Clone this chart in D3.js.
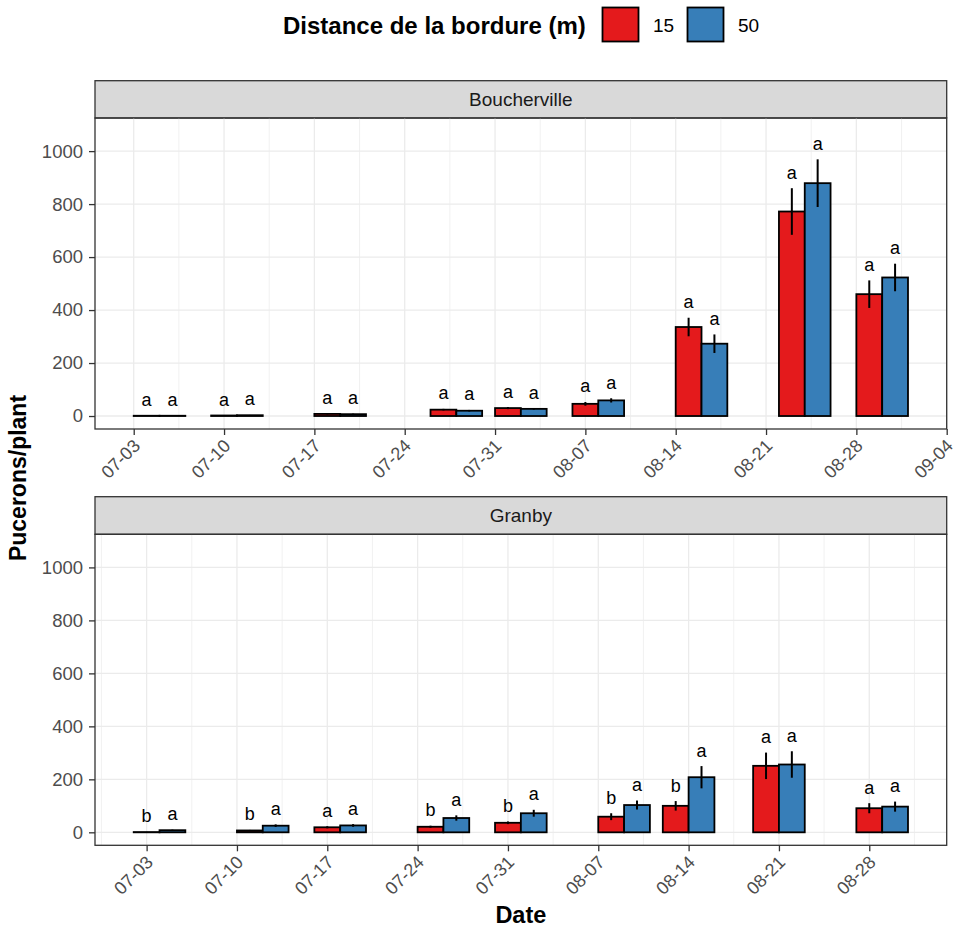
<!DOCTYPE html>
<html>
<head>
<meta charset="utf-8">
<script src="https://cdn.jsdelivr.net/npm/d3@7"></script>
<style>
  body { margin: 0; background: #fff; }
  svg text { font-family: "Liberation Sans", Arial, Helvetica, sans-serif; }
</style>
</head>
<body>
<svg id="chart" width="956" height="928"></svg>
<script>
// ---- Data -------------------------------------------------------------
const distances = ["15", "50"];
const distanceColors = ["#E41A1C", "#377EB8"];
const sites = ["Boucherville", "Granby"];

// Boucherville
const bouchDates = ["07-05", "07-11", "07-19", "07-28", "08-02", "08-08", "08-16", "08-24", "08-30"];
const bouch15 = [1, 2, 8, 24, 30, 46, 336, 772, 460];
const bouch15se = [0.5, 1, 2, 3, 4, 7, 35, 88, 52];
const bouch50 = [1, 3, 7, 20, 27, 59, 273, 879, 523];
const bouch50se = [0.5, 1, 2, 3, 3, 8, 35, 90, 52];
const bouch15letters = ["a", "a", "a", "a", "a", "a", "a", "a", "a"];
const bouch50letters = ["a", "a", "a", "a", "a", "a", "a", "a", "a"];
const bouchTicks = ["07-03", "07-10", "07-17", "07-24", "07-31", "08-07", "08-14", "08-21", "08-28", "09-04"];

// Granby
const granDates = ["07-04", "07-12", "07-18", "07-26", "08-01", "08-09", "08-14", "08-21", "08-29"];
const gran15 = [1, 7, 19, 21, 36, 59, 100, 251, 91];
const gran15se = [0.5, 2, 4, 4, 5, 13, 18, 50, 19];
const gran50 = [8, 25, 26, 54, 72, 103, 208, 256, 97];
const gran50se = [2, 5, 5, 10, 13, 17, 42, 50, 19];
const gran15letters = ["b", "b", "a", "b", "b", "b", "b", "a", "a"];
const gran50letters = ["a", "a", "a", "a", "a", "a", "a", "a", "a"];
const granTicks = ["07-03", "07-10", "07-17", "07-24", "07-31", "08-07", "08-14", "08-21", "08-28"];

const yTicks = [0, 200, 400, 600, 800, 1000];

// ---- Helpers ------------------------------------------------------------
const parseDay = d3.timeParse("%Y-%m-%d");
const toDate = s => parseDay("2019-" + s);
const fmt = d3.timeFormat("%m-%d");
const DAY = 86400000;

function buildRows(dates, v15, se15, l15, v50, se50, l50) {
  const rows = [];
  dates.forEach((d, i) => {
    rows.push({ date: toDate(d), dist: "15", value: v15[i], se: se15[i], letter: l15[i] });
    rows.push({ date: toDate(d), dist: "50", value: v50[i], se: se50[i], letter: l50[i] });
  });
  return rows;
}

const panels = [
  { name: sites[0], rows: buildRows(bouchDates, bouch15, bouch15se, bouch15letters, bouch50, bouch50se, bouch50letters),
    ticks: bouchTicks.map(toDate), stripTop: 80.7, plotTop: 118 },
  { name: sites[1], rows: buildRows(granDates, gran15, gran15se, gran15letters, gran50, gran50se, gran50letters),
    ticks: granTicks.map(toDate), stripTop: 496.7, plotTop: 534.3 }
];

// ---- Layout -------------------------------------------------------------
const svg = d3.select("#chart");
const left = 95, right = 946.7;
const plotH = 311;
const halfBar = 2 * DAY;   // each dodged bar spans two days
const colorScale = d3.scaleOrdinal().domain(distances).range(distanceColors);

const gridMajor = "#EBEBEB";
const borderCol = "#333333";
const tickTextCol = "#4D4D4D";

panels.forEach(p => {
  const g = svg.append("g");
  const top = p.plotTop, bottom = p.plotTop + plotH;

  // x domain: bar extent plus 5% padding on each side
  const minD = d3.min(p.rows, r => +r.date) - halfBar;
  const maxD = d3.max(p.rows, r => +r.date) + halfBar;
  const pad = (maxD - minD) * 0.05;
  const x = d3.scaleTime().domain([new Date(minD - pad), new Date(maxD + pad)]).range([left, right]);
  const y = d3.scaleLinear().domain([-49, 1125]).range([bottom, top]);

  // strip
  g.append("rect")
    .attr("x", left).attr("y", p.stripTop)
    .attr("width", right - left).attr("height", top - p.stripTop)
    .attr("fill", "#D9D9D9").attr("stroke", borderCol).attr("stroke-width", 1.3);
  g.append("text")
    .attr("x", (left + right) / 2).attr("y", (p.stripTop + top) / 2)
    .attr("text-anchor", "middle").attr("dominant-baseline", "central")
    .attr("font-size", 19).attr("fill", "#1A1A1A")
    .text(p.name);

  // minor vertical grid
  const [d0, d1] = x.domain();
  const minors = [];
  p.ticks.forEach(t => {
    [-3.5, 3.5].forEach(o => {
      const m = +t + o * DAY;
      if (m > +d0 && m < +d1 && !minors.includes(m)) minors.push(m);
    });
  });
  g.append("g").selectAll("line").data(minors).join("line")
    .attr("x1", d => x(new Date(d))).attr("x2", d => x(new Date(d)))
    .attr("y1", top).attr("y2", bottom)
    .attr("stroke", gridMajor).attr("stroke-width", 0.7);

  // major grid
  g.append("g").selectAll("line").data(p.ticks).join("line")
    .attr("x1", d => x(d)).attr("x2", d => x(d))
    .attr("y1", top).attr("y2", bottom)
    .attr("stroke", gridMajor).attr("stroke-width", 1.3);
  g.append("g").selectAll("line").data(yTicks).join("line")
    .attr("x1", left).attr("x2", right)
    .attr("y1", d => y(d)).attr("y2", d => y(d))
    .attr("stroke", gridMajor).attr("stroke-width", 1.3);

  // bars
  const xStart = r => r.dist === "15" ? x(new Date(+r.date - halfBar)) : x(r.date);
  const xMid = r => r.dist === "15" ? x(new Date(+r.date - halfBar / 2)) : x(new Date(+r.date + halfBar / 2));
  g.append("g").selectAll("rect").data(p.rows).join("rect")
    .attr("x", xStart)
    .attr("width", r => x(new Date(+r.date + halfBar)) - x(r.date))
    .attr("y", r => y(r.value))
    .attr("height", r => y(0) - y(r.value))
    .attr("fill", r => colorScale(r.dist))
    .attr("stroke", "#000").attr("stroke-width", 1.8);

  // error bars
  g.append("g").selectAll("line").data(p.rows).join("line")
    .attr("x1", xMid).attr("x2", xMid)
    .attr("y1", r => y(Math.max(0, r.value - r.se)))
    .attr("y2", r => y(r.value + r.se))
    .attr("stroke", "#000").attr("stroke-width", 2);

  // significance letters
  g.append("g").selectAll("text").data(p.rows).join("text")
    .attr("x", xMid)
    .attr("y", r => y(r.value + r.se) - 9.5)
    .attr("text-anchor", "middle")
    .attr("font-size", 18).attr("fill", "#000")
    .text(r => r.letter);

  // panel border
  g.append("rect")
    .attr("x", left).attr("y", top)
    .attr("width", right - left).attr("height", plotH)
    .attr("fill", "none").attr("stroke", borderCol).attr("stroke-width", 1.3);

  // y axis
  const yAxis = g.append("g").attr("transform", `translate(${left},0)`)
    .call(d3.axisLeft(y).tickValues(yTicks).tickFormat(d3.format("d")).tickSize(6).tickPadding(6));
  yAxis.select(".domain").remove();
  yAxis.selectAll(".tick line").attr("stroke", borderCol).attr("stroke-width", 1.3);
  yAxis.selectAll(".tick text").attr("font-size", 18.5).attr("fill", tickTextCol)
    .attr("font-family", "Liberation Sans, Arial, sans-serif");

  // x axis
  const xAxis = g.append("g").attr("transform", `translate(0,${bottom})`)
    .call(d3.axisBottom(x).tickValues(p.ticks).tickFormat(fmt).tickSize(6).tickPadding(0));
  xAxis.select(".domain").remove();
  xAxis.selectAll(".tick line").attr("stroke", borderCol).attr("stroke-width", 1.3);
  xAxis.selectAll(".tick text")
    .attr("font-size", 18).attr("fill", tickTextCol)
    .attr("font-family", "Liberation Sans, Arial, sans-serif")
    .attr("text-anchor", "end")
    .attr("dy", null).attr("y", null)
    .attr("transform", "translate(7,18) rotate(-45)");
});

// ---- Axis titles ------------------------------------------------------------
svg.append("text")
  .attr("transform", "translate(26,478) rotate(-90)")
  .attr("text-anchor", "middle")
  .attr("font-size", 23).attr("font-weight", "bold").attr("fill", "#000")
  .text("Pucerons/plant");

svg.append("text")
  .attr("x", (left + right) / 2).attr("y", 923)
  .attr("text-anchor", "middle")
  .attr("font-size", 23.5).attr("font-weight", "bold").attr("fill", "#000")
  .text("Date");

// ---- Legend -----------------------------------------------------------------
const legend = svg.append("g");
legend.append("text")
  .attr("x", 283).attr("y", 34)
  .attr("font-size", 24).attr("font-weight", "bold").attr("fill", "#000")
  .text("Distance de la bordure (m)");
const keyX = [602.5, 687.5];
distances.forEach((d, i) => {
  legend.append("rect")
    .attr("x", keyX[i]).attr("y", 7.5)
    .attr("width", 36).attr("height", 34)
    .attr("fill", colorScale(d)).attr("stroke", "#000").attr("stroke-width", 1.8);
  legend.append("text")
    .attr("x", keyX[i] + 50.5).attr("y", 32.3)
    .attr("font-size", 19).attr("fill", "#000")
    .text(d);
});
</script>
</body>
</html>
